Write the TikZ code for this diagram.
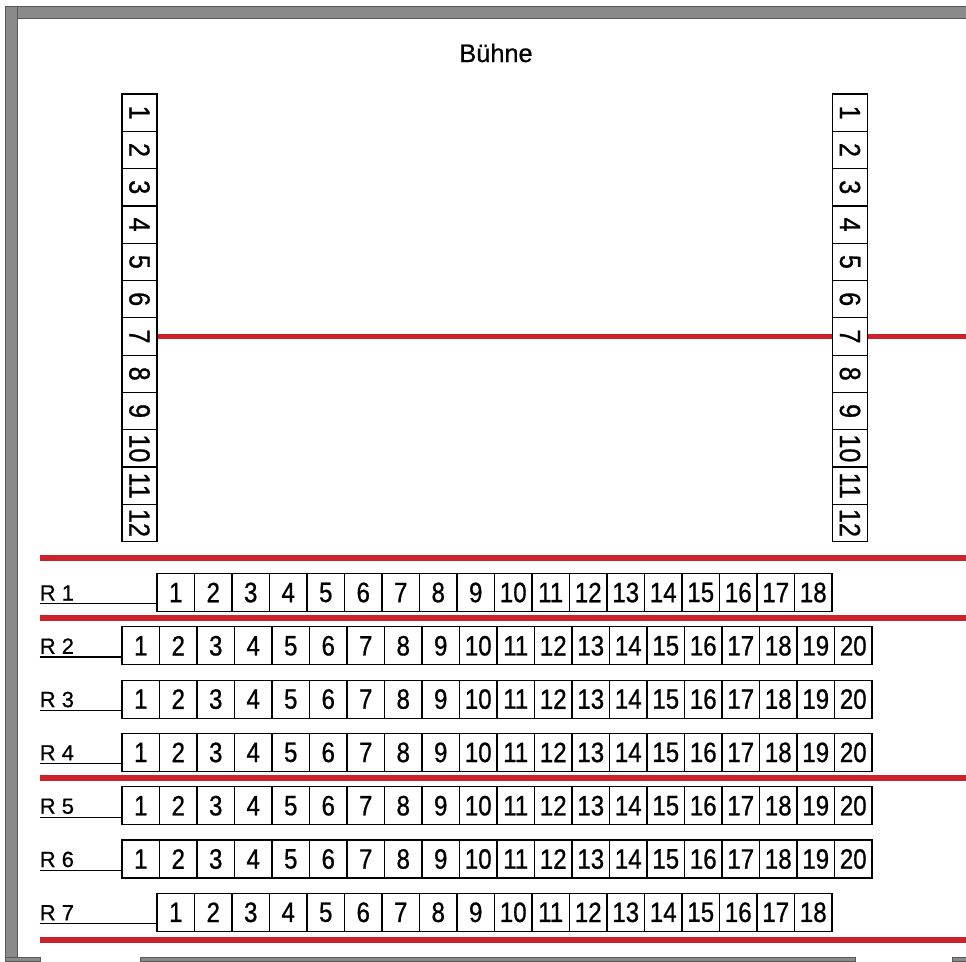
\documentclass[tikz,border=0pt]{standalone}
\usepackage{fontspec}
\setmainfont{Liberation Sans}[FakeBold=0.6]
\newfontfamily\schmal{Liberation Sans}[FakeStretch=0.86, FakeBold=0.8]
\usetikzlibrary{positioning}
\definecolor{buehnenrot}{RGB}{204,34,44}
\definecolor{rahmengrau}{RGB}{138,138,138}
\tikzset{
  platz/.style={draw, line width=0.9pt, minimum width=28.125pt, minimum height=28.5pt,
    inner sep=0pt, font=\schmal\fontsize{21}{22}\selectfont},
  saeule/.style={draw, line width=0.9pt, minimum width=26.25pt, minimum height=27.975pt,
    inner sep=0pt, font=\schmal\fontsize{22}{24}\selectfont},
  reihe/.style={inner xsep=0pt, inner ysep=2.25pt, font=\fontsize{16.5}{18}\selectfont},
  titel/.style={font=\fontsize{19}{21}\selectfont},
  linie/.style={draw=buehnenrot, line width=3.8pt},
  strich/.style={line width=0.9pt},
  rahmen/.style={fill=rahmengrau, draw=black!65, line width=0.6pt}
}

\begin{document}
\begin{tikzpicture}[x=0.75pt, y=-0.75pt]
  \useasboundingbox[fill=white] (0,0) rectangle (966,961);
  \path[rahmen] (5,6) rectangle (966,18);
  \path[rahmen] (5,6) rectangle (17,961);
  \path[rahmen] (5,957) rectangle (40,961);
  \path[rahmen] (140,957) rectangle (855,961);
  \path[rahmen] (952,957) rectangle (966,961);

  \node[titel, anchor=base] (buehne) at (496,62) {Bühne};

  \foreach \s in {1,...,12}{
    \node[saeule] (links\s) at (139.5,{94+(\s-0.5)*37.3}) {\rotatebox{-90}{\s}};
    \node[saeule] (rechts\s) at (850,{94+(\s-0.5)*37.3}) {\rotatebox{-90}{\s}};
  }
  \coordinate (rechtsrand) at (966,0);
  \draw[linie] (links7.east) -- (rechts7.west);
  \draw[linie] (rechts7.east) -- (rechts7.east -| rechtsrand);

  \foreach \y in {558,618,778,940}
    \draw[linie] (40,\y) -- (966,\y);

  \foreach \r/\n/\x in {1/18/157, 2/20/122, 3/20/122, 4/20/122, 5/20/122, 6/20/122, 7/18/157}{
    \pgfmathsetmacro\yc{592.5+(\r-1)*53.3}
    \foreach \s in {1,...,\n}
      \node[platz] (reihe\r-\s) at ({\x+(\s-0.5)*37.5},\yc) {\s};
    \node[reihe, anchor=base west] (label\r) at (39.5,\yc+8) {R \r};
    \draw[strich] (label\r.south west) -- (label\r.south west -| reihe\r-1.west);
  }
\end{tikzpicture}
\end{document}
